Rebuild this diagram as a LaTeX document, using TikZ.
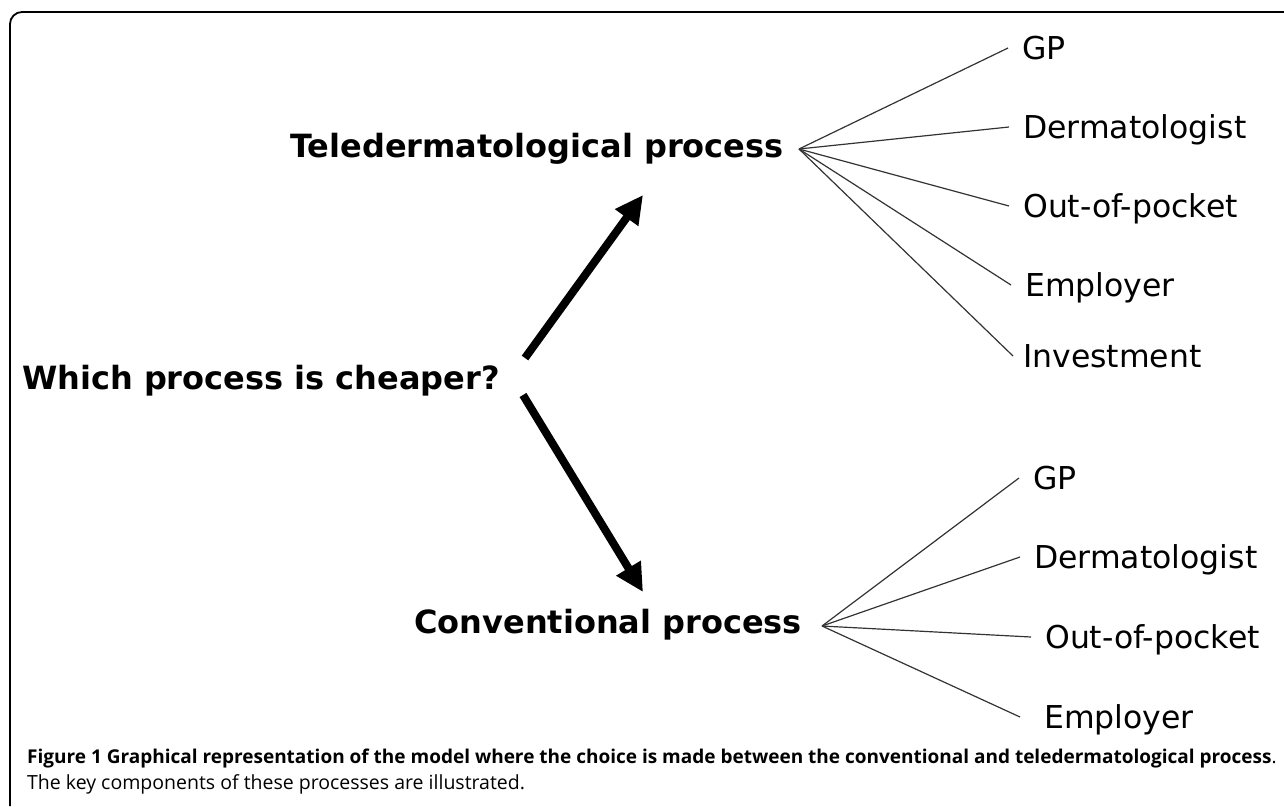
\documentclass[tikz,border=0pt]{standalone}
\usepackage{fontspec}
\setmainfont{DejaVu Sans}
\newfontfamily\captionfont{Open Sans}
\usetikzlibrary{arrows.meta,positioning}

\begin{document}
\begin{tikzpicture}[x=1pt, y=-1pt,
    proc/.style={font=\fontsize{32}{36}\selectfont\bfseries, inner sep=0pt, text height=23pt, text depth=0pt},
    part/.style={font=\fontsize{31.5}{36}\selectfont, anchor=west, inner ysep=0pt, inner xsep=14pt, text height=23pt, text depth=0pt},
    twig/.style={black!80, line width=1.2pt},
    pick/.style={line width=8pt, -{Triangle[length=28pt, width=27pt]}},
    capline/.style={anchor=base west, inner sep=0pt, font=\captionfont\fontsize{19}{22}\selectfont},
  ]
  \useasboundingbox (0,0) rectangle (1284,806);
  % frame, only its top left corner is in view
  \draw[line width=1.8pt, rounded corners=12pt] (10,806) -- (10,12) -- (1284,12);

  \node[proc, anchor=east] (choice) at (500,378) {Which process is cheaper?};
  \node[proc, anchor=west] (tele) at (290,146) {Teledermatological process};
  \node[proc, anchor=west] (conv) at (414,622) {Conventional process};

  % arrows from the question to both processes
  \coordinate (upfoot) at (525,358);
  \coordinate (uptip) at (643,195);
  \coordinate (downfoot) at (523,395);
  \coordinate (downtip) at (643,592);
  \draw[pick] (upfoot) -- (uptip);
  \draw[pick] (downfoot) -- (downtip);

  % teledermatological components
  \coordinate (telefan) at (799,149);
  \node[part] (tgp) at (1008,48) {GP};
  \node[part] (tderm) at (1009,127) {Dermatologist};
  \node[part] (tpocket) at (1009,206) {Out-of-pocket};
  \node[part] (temp) at (1011,285) {Employer};
  \node[part, inner xsep=10pt] (tinv) at (1013,356) {Investment};
  \draw[twig] (telefan) -- (tgp.west);
  \draw[twig] (telefan) -- (tderm.west);
  \draw[twig] (telefan) -- (tpocket.west);
  \draw[twig] (telefan) -- (temp.west);
  \draw[twig] (telefan) -- (tinv.west);

  % conventional components
  \coordinate (convfan) at (822,626);
  \node[part] (cgp) at (1019,478) {GP};
  \node[part] (cderm) at (1020,557) {Dermatologist};
  \node[part] (cpocket) at (1031,637) {Out-of-pocket};
  \node[part, inner xsep=24pt] (cemp) at (1020,717) {Employer};
  \draw[twig] (convfan) -- (cgp.west);
  \draw[twig] (convfan) -- (cderm.west);
  \draw[twig] (convfan) -- (cpocket.west);
  \draw[twig] (convfan) -- (cemp.west);

  % caption
  \node[capline] (figcap) at (27,763) {\textbf{Figure 1 Graphical representation of the model where the choice is made between the conventional and teledermatological process}.};
  \node[capline, font=\captionfont\fontsize{19.5}{22}\selectfont] (capnote) at (27,789) {The key components of these processes are illustrated.};
\end{tikzpicture}
\end{document}
